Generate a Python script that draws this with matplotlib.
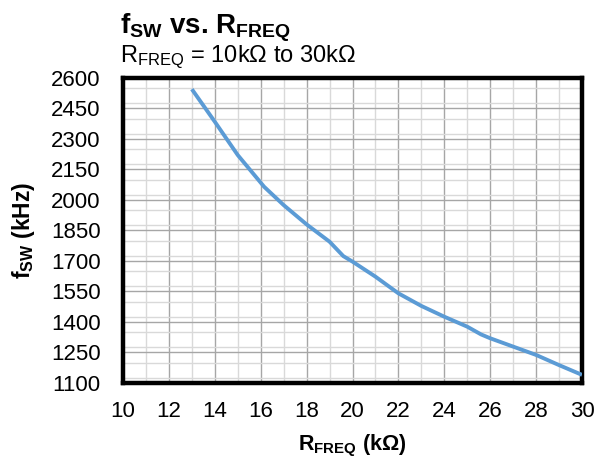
import matplotlib
matplotlib.use("Agg")
import matplotlib.pyplot as plt
from matplotlib.ticker import MultipleLocator

plt.rcParams['font.family'] = ['Liberation Sans', 'DejaVu Sans']
plt.rcParams['mathtext.fontset'] = 'custom'
plt.rcParams['mathtext.rm'] = 'Liberation Sans'
plt.rcParams['mathtext.it'] = 'Liberation Sans'
plt.rcParams['mathtext.bf'] = 'Liberation Sans:bold'

r_freq = [13, 14, 15, 16.15, 17, 18, 19, 19.6, 20, 21, 22, 23, 24, 25, 25.6, 26, 27, 28, 29, 30]
f_sw = [2545, 2385, 2221, 2065, 1975, 1880, 1795, 1724, 1697, 1623, 1541, 1479, 1426, 1377,
        1339, 1320, 1279, 1238, 1188, 1140]
x_ticks = [10, 12, 14, 16, 18, 20, 22, 24, 26, 28, 30]
y_ticks = [1100, 1250, 1400, 1550, 1700, 1850, 2000, 2150, 2300, 2450, 2600]

fig = plt.figure(figsize=(5.94, 4.62), dpi=100)
ax = fig.add_axes([123/594, 1-383/462, (582-123)/594, (383-78)/462])

ax.plot(r_freq, f_sw, color='#5B9BD5', lw=2.8, zorder=3, solid_capstyle='butt')

ax.set_xlim(10, 30)
ax.set_ylim(1100, 2600)
ax.set_xticks(x_ticks)
ax.set_yticks(y_ticks)
ax.xaxis.set_minor_locator(MultipleLocator(1))
ax.yaxis.set_minor_locator(MultipleLocator(75))
ax.grid(which='major', color='#a6a6a6', lw=1.0, zorder=0)
ax.grid(which='minor', color='#d9d9d9', lw=1.0, zorder=0)
ax.set_axisbelow(True)
ax.tick_params(which='both', length=0)
ax.tick_params(axis='x', labelsize=16, pad=13)
ax.tick_params(axis='y', labelsize=16, pad=16)
for s in ax.spines.values():
    s.set_linewidth(3.2)
    s.set_color('black')

ax.set_xlabel(r'$\mathbf{R_{FREQ}}$ (kΩ)', fontsize=15.5, fontweight='bold', labelpad=8)
ax.set_ylabel(r'$\mathbf{f_{SW}}$ (kHz)', fontsize=16.5, fontweight='bold', labelpad=10)

fig.text(120/594, 1-34/462, r'$\mathbf{f_{SW}}$ vs. $\mathbf{R_{FREQ}}$', fontsize=20,
         fontweight='bold', ha='left', va='baseline')
fig.text(120/594, 1-62/462, r'$\mathrm{R_{FREQ}}$ = 10kΩ to 30kΩ', fontsize=17,
         ha='left', va='baseline')

fig.savefig('out.png', dpi=100)
